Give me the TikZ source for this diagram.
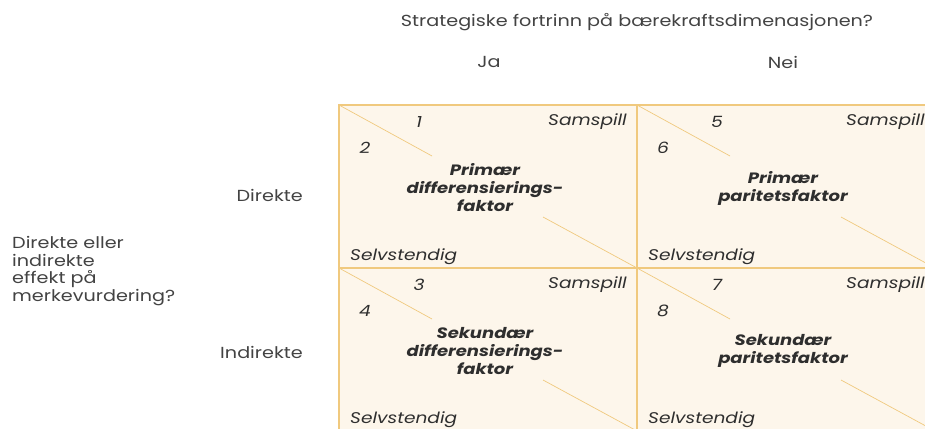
\documentclass[tikz,border=0pt]{standalone}
\usepackage{fontspec}
\setmainfont{Poppins}[FakeStretch=1.2]
\usepackage{xcolor}
\usetikzlibrary{positioning}
\definecolor{cellfill}{HTML}{FDF6EB}
\definecolor{cellline}{HTML}{F0C97E}
\definecolor{txt}{HTML}{2E2E2E}
\tikzset{
  cell/.style={draw=cellline,fill=cellfill,line width=1.5pt},
  diag/.style={draw=cellline,line width=0.7pt},
  corner/.style={font=\itshape\fontsize{15.5}{18}\selectfont,text=txt,inner sep=0pt},
  factor/.style={font=\bfseries\itshape\fontsize{15}{18}\selectfont,text=txt,align=center,inner sep=0pt},
  axislabel/.style={font=\fontsize{16}{17.7}\selectfont,text=txt!90,inner sep=0pt}
}
\begin{document}
\begin{tikzpicture}[x=1pt,y=-1pt]
\clip (0,0) rectangle (925,428);
\fill[white] (0,0) rectangle (925,428);
% axis texts
\node[axislabel] (title) at (637,22) {Strategiske fortrinn på bærekraftsdimenasjonen?};
\node[axislabel] (ja) at (489,62) {Ja};
\node[axislabel] (nei) at (783,62) {Nei};
\node[axislabel,anchor=east] (direkte) at (303,195) {Direkte};
\node[axislabel,anchor=east] (indirekte) at (303,352) {Indirekte};
\node[axislabel,anchor=west,align=left] (effekt) at (12,271) {Direkte eller\\indirekte\\effekt på\\merkevurdering?};
% the four cells
\foreach \cx/\cy/\na/\nb/\txt in {339/105/1/2/{Primær\\differensierings-\\faktor},
    637/105/5/6/{Primær\\paritetsfaktor},
    339/268/3/4/{Sekundær\\differensierings-\\faktor},
    637/268/7/8/{Sekundær\\paritetsfaktor}}{
  \begin{scope}[shift={(\cx,\cy)}]
  \draw[cell] (0,0) rectangle (298,163);
  \draw[diag] (0,0)--(93,51);
  \draw[diag] (204,112)--(298,163);
  \node[corner] (num\na) at (80,17) {\na};
  \node[corner] (num\nb) at (26,43) {\nb};
  \node[corner,anchor=east] (sam\na) at (288,17) {Samspill};
  \node[corner,anchor=west] (selv\na) at (11,152) {Selvstendig};
  \node[factor] (fak\na) at (146,83) {\txt};
  \end{scope}
}
\end{tikzpicture}
\end{document}
